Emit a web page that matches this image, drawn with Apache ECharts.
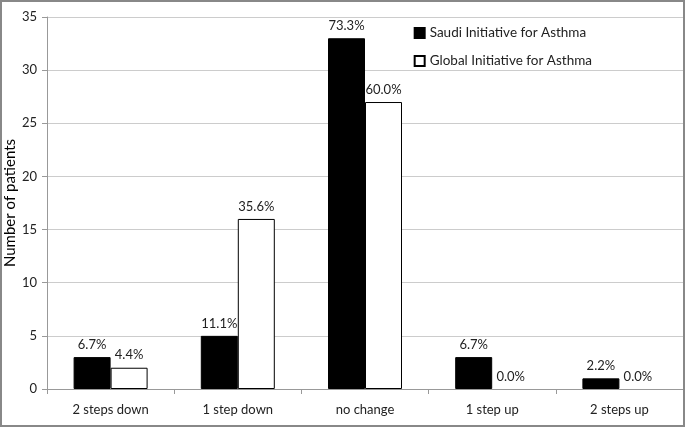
<!DOCTYPE html>
<html><head><meta charset="utf-8">
<script src="https://cdn.jsdelivr.net/npm/echarts@6/dist/echarts.min.js"></script>
<style>html,body{margin:0;padding:0;background:#fff}#c{width:685px;height:427px}</style>
</head><body><div id="c"></div>
<script>
const categories = ["2 steps down", "1 step down", "no change", "1 step up", "2 steps up"];
const saudiValues = [3, 5, 33, 3, 1];
const globalValues = [2, 16, 27, 0, 0];
const saudiPct = ["6.7%", "11.1%", "73.3%", "6.7%", "2.2%"];
const globalPct = ["4.4%", "35.6%", "60.0%", "0.0%", "0.0%"];
const yTicks = [0, 5, 10, 15, 20, 25, 30, 35];

const FONT = "Lato, 'Open Sans', sans-serif";
const chart = echarts.init(document.getElementById('c'));
const toItems = vals => vals.map(v => v === 0 ? {value: v, itemStyle: {borderWidth: 0}} : v);
chart.setOption({
  animation: false,
  textStyle: {fontFamily: FONT},
  grid: {left: 47, right: 2, top: 17, bottom: 38, containLabel: false, outerBoundsMode: 'none'},
  legend: {
    right: 88, top: 21, orient: 'vertical', itemGap: 14,
    itemWidth: 10, itemHeight: 10, icon: 'rect',
    textStyle: {fontFamily: FONT, fontSize: 13.5, color: '#222'},
    data: ["Saudi Initiative for Asthma", "Global Initiative for Asthma"]
  },
  xAxis: {
    type: 'category', data: categories,
    axisLine: {lineStyle: {color: '#999'}},
    axisTick: {show: true, alignWithLabel: false, length: 5, lineStyle: {color: '#999'}},
    axisLabel: {fontFamily: FONT, fontSize: 13, color: '#222', margin: 14}
  },
  yAxis: {
    type: 'value', min: yTicks[0], max: yTicks[yTicks.length - 1], interval: 5,
    name: 'Number of patients', nameLocation: 'middle', nameGap: 29, nameRotate: 90,
    nameMoveOverlap: false,
    nameTextStyle: {fontFamily: FONT, fontSize: 15, color: '#000'},
    axisLine: {show: true, lineStyle: {color: '#999'}},
    axisTick: {show: true, length: 5, lineStyle: {color: '#999'}},
    axisLabel: {fontFamily: FONT, fontSize: 13, color: '#222', margin: 10},
    splitLine: {lineStyle: {color: '#ccc'}}
  },
  series: [
    {
      name: "Saudi Initiative for Asthma", type: 'bar', data: toItems(saudiValues),
      barWidth: 37, barGap: '0%',
      itemStyle: {color: '#000', borderColor: '#000', borderWidth: 1},
      label: {show: true, position: 'top', distance: 6, fontFamily: FONT, fontSize: 13, color: '#222',
        formatter: p => saudiPct[p.dataIndex]}
    },
    {
      name: "Global Initiative for Asthma", type: 'bar', data: toItems(globalValues),
      barWidth: 37, barGap: '0%',
      itemStyle: {color: '#fff', borderColor: '#000', borderWidth: 1},
      label: {show: true, position: 'top', distance: 6, fontFamily: FONT, fontSize: 13, color: '#222',
        formatter: p => globalPct[p.dataIndex]}
    }
  ],
  graphic: [{type: 'rect', shape: {x: 1, y: 1, width: 683, height: 425},
    style: {fill: 'none', stroke: '#888', lineWidth: 2}, z: 100}]
});
</script></body></html>
